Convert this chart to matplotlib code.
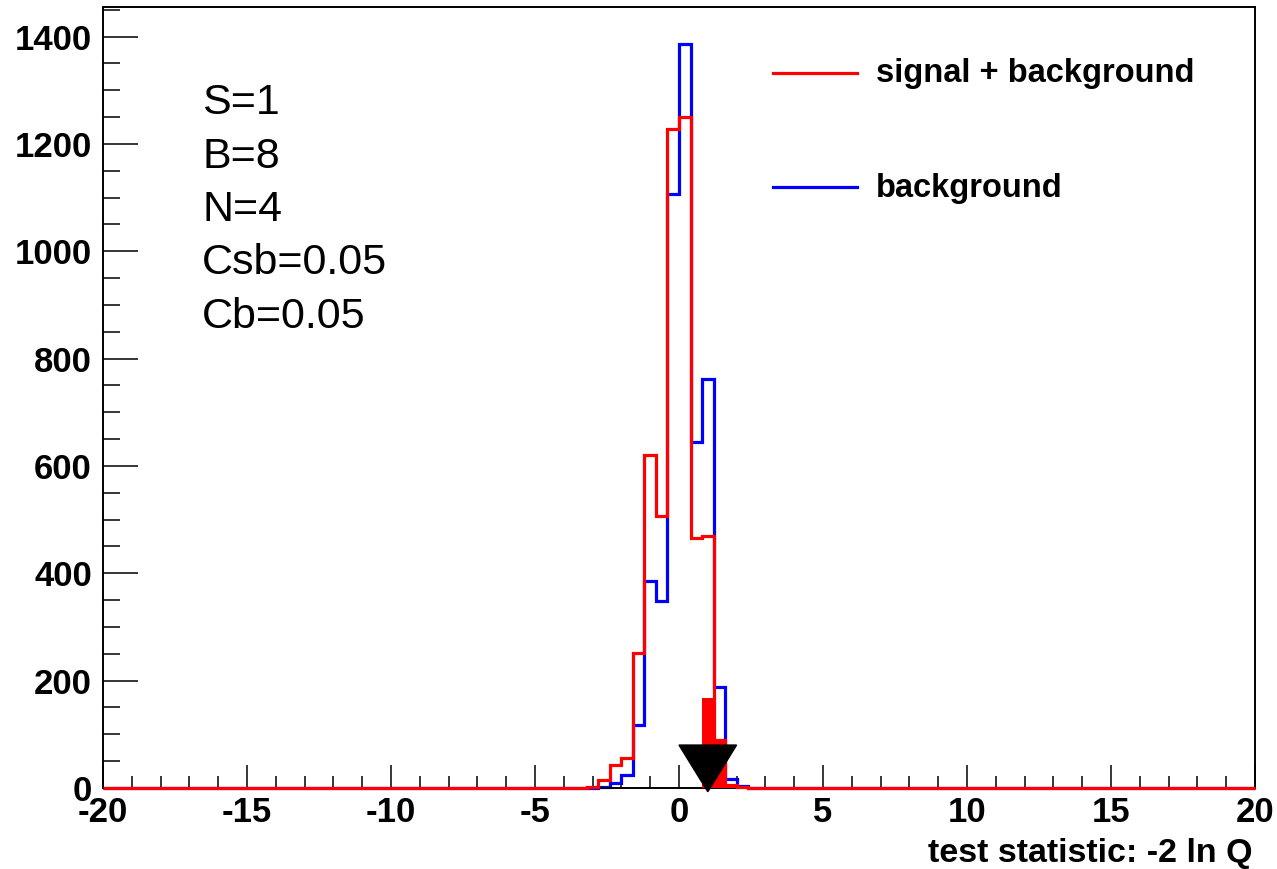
import numpy as np
import matplotlib
matplotlib.use("Agg")
import matplotlib.pyplot as plt
from matplotlib.lines import Line2D
from matplotlib.ticker import MultipleLocator

plt.rcParams['font.family'] = ['Liberation Sans', 'DejaVu Sans']
plt.rcParams['axes.unicode_minus'] = False

# ------ Data -----------------------
edges = np.linspace(-20, 20, 101)          # 100 bins of 0.4
first_bin = 42                             # bins before this are empty

# signal + background, bins 42..55
sb_core = [2, 14, 43, 55, 251, 621, 507, 1228, 1251, 465, 470, 89, 6, 2]
# background only, bins 42..55
b_core = [0, 2, 10, 25, 117, 385, 349, 1107, 1387, 644, 762, 189, 16, 3]
# shaded tail of s+b beyond the observed value, bins 52..55
tail_first_bin = 52
tail_core = [168, 89, 6, 2]

obs_value = 1.0

info_lines = ["S=1", "B=8", "N=4", "Csb=0.05", "Cb=0.05"]
legend_labels = ["signal + background", "background"]
# -----------------------------------

sb = np.zeros(len(edges) - 1)
sb[first_bin:first_bin + len(sb_core)] = sb_core
bkg = np.zeros(len(edges) - 1)
bkg[first_bin:first_bin + len(b_core)] = b_core
tail = np.zeros(len(edges) - 1)
tail[tail_first_bin:tail_first_bin + len(tail_core)] = tail_core

W, H = 1277, 869
fig = plt.figure(figsize=(W / 100, H / 100), dpi=100)
ax = fig.add_axes([103 / W, 1 - 788 / H, (1255 - 103) / W, (788 - 7) / H])

red = '#ff0000'
blue = '#0000ff'
lw = 2.3

ax.stairs(bkg, edges, color=blue, lw=lw, clip_on=False, zorder=2)
ax.stairs(tail, edges, color=red, fill=True, lw=0, zorder=3)
ax.stairs(sb, edges, color=red, lw=lw, clip_on=False, zorder=4)

# arrow at the observed value
ax.fill([obs_value - 1.0, obs_value + 1.0, obs_value],
        [80, 80, -7], color='black', clip_on=False, zorder=5)

ax.set_xlim(-20, 20)
ax.set_ylim(0, 1455)

ax.xaxis.set_major_locator(MultipleLocator(5))
ax.xaxis.set_minor_locator(MultipleLocator(1))
ax.yaxis.set_major_locator(MultipleLocator(200))
ax.yaxis.set_minor_locator(MultipleLocator(50))

ax.tick_params(axis='both', which='both', direction='in', top=False, right=False,
               width=1.1, colors='black')
ax.tick_params(axis='x', which='major', length=16.5, pad=6)
ax.tick_params(axis='x', which='minor', length=8.3)
ax.tick_params(axis='y', which='major', length=25, pad=8)
ax.tick_params(axis='y', which='minor', length=12.5)

for lab in ax.get_xticklabels() + ax.get_yticklabels():
    lab.set_fontsize(25)
    lab.set_fontweight('bold')

for sp in ax.spines.values():
    sp.set_linewidth(1.4)

ax.set_xlabel("test statistic: -2 ln Q", fontsize=24.5, fontweight='bold', loc='right')
ax.xaxis.label.set_va('baseline')
ax.xaxis.set_label_coords((1252 - 103) / 1152, (788 - 862) / 781)

# info text
for i, line in enumerate(info_lines):
    fig.text(202 / W, 1 - (114 + 53.5 * i) / H, line, fontsize=31,
             ha='left', va='baseline')

# legend
for (label, col, ly, ty) in [(legend_labels[0], red, 72.7, 81.7),
                             (legend_labels[1], blue, 187.3, 196.7)]:
    fig.add_artist(Line2D([773 / W, 857 / W], [1 - ly / H, 1 - ly / H],
                          color=col, lw=lw))
    fig.text(876 / W, 1 - ty / H, label, fontsize=23.5, fontweight='bold',
             ha='left', va='baseline')

fig.savefig("out.png", dpi=100)
